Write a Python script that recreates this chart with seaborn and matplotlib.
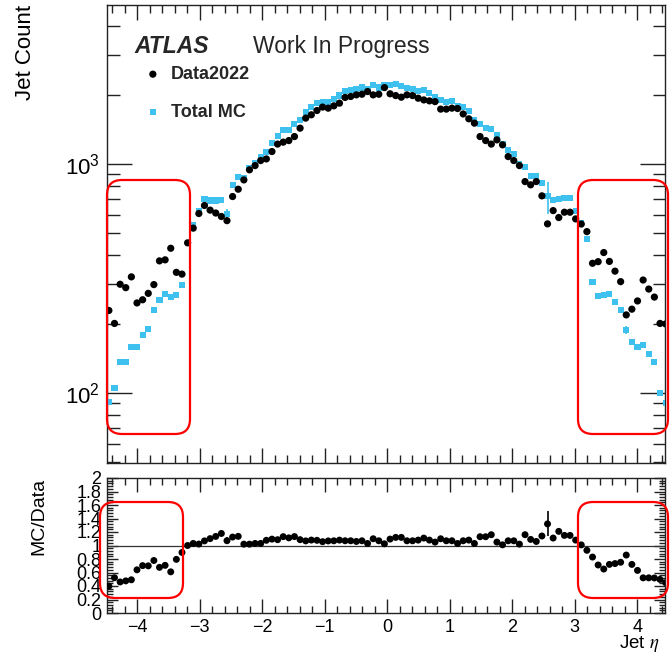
import numpy as np
import pandas as pd
import matplotlib
matplotlib.use("Agg")
import matplotlib.pyplot as plt
import seaborn as sns
from matplotlib.patches import FancyBboxPatch
from matplotlib.transforms import IdentityTransform
from matplotlib.ticker import MultipleLocator, FixedLocator, FixedFormatter, LogLocator, NullFormatter

# ---------------- data ----------------
eta_edges = np.linspace(-4.5, 4.5, 101)

data_counts = [229, 201, 298, 288, 321, 247, 255, 272, 297, 377,
               381, 428, 336, 330, 452, 524, 607, 658, 628, 610,
               589, 565, 720, 775, 851, 942, 983, 1034, 1051, 1132,
               1220, 1244, 1264, 1316, 1432, 1584, 1638, 1710, 1770, 1751,
               1792, 1841, 1950, 1969, 2001, 2014, 2069, 2001, 2014, 2153,
               2023, 1987, 1955, 2001, 1987, 1935, 1902, 1884, 1870, 1734,
               1734, 1751, 1745, 1652, 1573, 1506, 1316, 1264, 1220, 1273,
               1211, 1076, 1034, 983, 837, 810, 837, 725, 547, 625,
               583, 615, 615, 575, 546, 506, 368, 374, 410, 375,
               340, 306, 219, 232, 252, 311, 284, 262, 201, 200]

mc_counts = [91, 105, 137, 137, 158, 158, 179, 190, 231, 255,
             269, 261, 267, 296, 452, 540, 620, 703, 692, 692,
             694, 605, 810, 880, 868, 961, 1013, 1066, 1132, 1239,
             1325, 1407, 1407, 1490, 1556, 1692, 1770, 1841, 1870, 1870,
             1917, 1988, 2087, 2107, 2121, 2155, 2131, 2201, 2155, 2207,
             2215, 2225, 2190, 2141, 2126, 2090, 2111, 2035, 1964, 1907,
             1855, 1874, 1797, 1768, 1699, 1551, 1487, 1428, 1415, 1337,
             1223, 1151, 1106, 1003, 971, 883, 887, 827, 722, 694,
             705, 707, 707, 621, 551, 470, 305, 266, 267, 270,
             249, 230, 188, 167, 159, 162, 148, 136, 100, 90]

err_bins = [21, 78, 92]
mc_err = [30, 115, 8]
ratio_err = [0.05, 0.185, 0.05]

eta_centers = 0.5 * (eta_edges[:-1] + eta_edges[1:])
df = pd.DataFrame({"eta": eta_centers, "data": data_counts, "mc": mc_counts})
df["ratio"] = df["mc"] / df["data"]

# ---------------- style ----------------
sns.set_theme(style="ticks")
plt.rcParams["font.family"] = ["Liberation Sans", "DejaVu Sans"]
plt.rcParams["mathtext.fontset"] = "stix"
plt.rcParams["axes.linewidth"] = 1.0
plt.rcParams["axes.edgecolor"] = "#222222"

W, H = 671, 653
fig = plt.figure(figsize=(W / 100, H / 100), dpi=100)
ax = fig.add_axes([107 / W, 1 - 463 / H, (665 - 107) / W, (463 - 5) / H])
ax2 = fig.add_axes([107 / W, 1 - 613 / H, (665 - 107) / W, (613 - 478) / H])

mc_color = "#3EC1EE"

# ---------------- top panel ----------------
sns.scatterplot(data=df, x="eta", y="mc", ax=ax, marker="s", s=19, color=mc_color,
                edgecolor="none", label="Total MC", zorder=3)
sns.scatterplot(data=df, x="eta", y="data", ax=ax, marker="o", s=27, color="black",
                edgecolor="none", label="Data2022", zorder=4)
ax.errorbar(df["eta"].iloc[err_bins], df["mc"].iloc[err_bins], yerr=mc_err,
            fmt="none", ecolor=mc_color, elinewidth=1.2, zorder=3)

ax.set_yscale("log")
ax.set_xlim(-4.485, 4.445)
ax.set_ylim(49.4, 4940)
ax.xaxis.set_major_locator(MultipleLocator(1))
ax.xaxis.set_minor_locator(MultipleLocator(0.2))
ax.set_xticklabels([])
ax.yaxis.set_major_locator(FixedLocator([100, 1000]))
ax.yaxis.set_major_formatter(FixedFormatter([r"$\mathregular{10^{2}}$", r"$\mathregular{10^{3}}$"]))
ax.yaxis.set_minor_locator(LogLocator(base=10, subs=np.arange(2, 10)))
ax.yaxis.set_minor_formatter(NullFormatter())
ax.tick_params(axis="both", which="both", direction="in", top=True, right=True, colors="#222222")
ax.tick_params(axis="x", which="major", length=11, width=1)
ax.tick_params(axis="x", which="minor", length=6, width=1)
ax.tick_params(axis="y", which="major", length=18, width=1, labelsize=16, pad=5)
ax.tick_params(axis="y", which="minor", length=9, width=1)
for t in ax.get_yticklabels():
    t.set_color("black")
ax.set_xlabel("")
ax.set_ylabel("Jet Count", loc="top", fontsize=16, color="black")
ax.yaxis.set_label_coords(-0.128, 1.0)

handles, labels = ax.get_legend_handles_labels()
order = [labels.index("Data2022"), labels.index("Total MC")]
ax.legend([handles[i] for i in order], [labels[i] for i in order],
          loc="upper left", bbox_to_anchor=(0.066, 0.867), frameon=False,
          borderpad=0, borderaxespad=0, handlelength=1.0, handletextpad=0.5,
          labelspacing=1.15, prop={"weight": "bold", "size": 13})

ax.text(0.050, 0.895, "ATLAS", transform=ax.transAxes, fontsize=16.5,
        fontweight="bold", fontstyle="italic", va="baseline", ha="left")
ax.text(0.262, 0.895, "Work In Progress", transform=ax.transAxes, fontsize=16.5,
        va="baseline", ha="left")

# ---------------- ratio panel ----------------
ax2.axhline(1.0, color="#333333", lw=0.9, zorder=1)
ax2.errorbar(df["eta"].iloc[err_bins], df["ratio"].iloc[err_bins], yerr=ratio_err,
             fmt="none", ecolor="black", elinewidth=1.2, zorder=3)
sns.scatterplot(data=df, x="eta", y="ratio", ax=ax2, marker="o", s=25, color="black",
                edgecolor="none", zorder=4, legend=False)
ax2.set_xlim(-4.485, 4.445)
ax2.set_ylim(0, 2)
ax2.xaxis.set_major_locator(MultipleLocator(1))
ax2.xaxis.set_minor_locator(MultipleLocator(0.2))
ratio_ticks = [0, 0.2, 0.4, 0.6, 0.8, 1.0, 1.2, 1.4, 1.6, 1.8, 2.0]
ratio_tick_labels = ["0", "0.2", "0.4", "0.6", "0.8", "1", "1.2", "1.4", "1.6", "1.8", "2"]
ax2.yaxis.set_major_locator(FixedLocator(ratio_ticks))
ax2.yaxis.set_major_formatter(FixedFormatter(ratio_tick_labels))
ax2.yaxis.set_minor_locator(MultipleLocator(0.04))
ax2.tick_params(axis="both", which="both", direction="in", top=True, right=True, colors="#222222")
ax2.tick_params(axis="x", which="major", length=10, width=1, labelsize=13, pad=4)
ax2.tick_params(axis="x", which="minor", length=5, width=1)
ax2.tick_params(axis="y", which="major", length=8, width=1, labelsize=13, pad=4)
ax2.tick_params(axis="y", which="minor", length=4, width=1)
for t in ax2.get_xticklabels() + ax2.get_yticklabels():
    t.set_color("black")
ax2.set_ylabel("MC/Data", loc="top", fontsize=14, color="black")
ax2.yaxis.set_label_coords(-0.1075, 1.0)
ax2.set_xlabel(r"Jet $\eta$", loc="right", fontsize=13.5, color="black")
ax2.xaxis.set_label_coords(0.99, -0.15)

# ---------------- highlight boxes ----------------
boxes = [(107, 190, 180, 434), (578, 668, 180, 434), (100, 183, 502, 598), (578, 668, 502, 598)]
for x0, x1, y0, y1 in boxes:
    p = FancyBboxPatch((x0, H - y1), x1 - x0, y1 - y0,
                       boxstyle="round,pad=0,rounding_size=15",
                       transform=IdentityTransform(), fill=False,
                       edgecolor="#FF0000", linewidth=1.6, zorder=10)
    fig.add_artist(p)

fig.savefig("out.png", dpi=100)
